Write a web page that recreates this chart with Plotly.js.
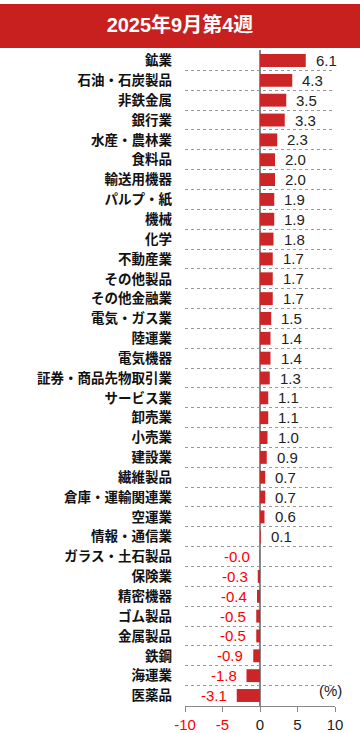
<!DOCTYPE html>
<html>
<head>
<meta charset="utf-8">
<script src="https://cdn.plot.ly/plotly-3.0.1.min.js"></script>
<style>html,body{margin:0;padding:0;background:#fff;}#chart{width:360px;height:733px;}</style>
</head>
<body>
<div id="chart"></div>
<script>
const titleText = '2025年9月第4週';
const categories = ['鉱業','石油・石炭製品','非鉄金属','銀行業','水産・農林業','食料品','輸送用機器','パルプ・紙','機械','化学','不動産業','その他製品','その他金融業','電気・ガス業','陸運業','電気機器','証券・商品先物取引業','サービス業','卸売業','小売業','建設業','繊維製品','倉庫・運輸関連業','空運業','情報・通信業','ガラス・土石製品','保険業','精密機器','ゴム製品','金属製品','鉄鋼','海運業','医薬品'];
const values = [6.1,4.3,3.5,3.3,2.3,2.0,2.0,1.9,1.9,1.8,1.7,1.7,1.7,1.5,1.4,1.4,1.3,1.1,1.1,1.0,0.9,0.7,0.7,0.6,0.1,-0.03,-0.3,-0.4,-0.5,-0.5,-0.9,-1.8,-3.1];
const tickVals = [-10,-5,0,5,10];
const tickLabels = ['-10','-5','0','5','10'];
const unitLabel = '(%)';

const RED = '#cc2528';
const CJK = '"Noto Sans CJK JP", sans-serif';
const NUM = '"Liberation Sans", Arial, sans-serif';

const trace = {
  type: 'bar', orientation: 'h',
  x: values, y: categories,
  marker: {color: RED},
  width: 0.65,
  hoverinfo: 'skip'
};

const annotations = values.map((v, i) => ({
  x: v, y: categories[i], xref: 'x', yref: 'y',
  text: v.toFixed(1),
  showarrow: false,
  xanchor: v < 0 ? 'right' : 'left',
  xshift: v < 0 ? -8 : 8,
  font: {family: NUM, size: 15, color: v < 0 ? '#ff0000' : '#222222'}
}));
annotations.push({
  x: 1.0, y: 0.0, xref: 'paper', yref: 'paper',
  text: unitLabel, showarrow: false, xanchor: 'right', yanchor: 'bottom',
  xshift: 9, yshift: 5,
  font: {family: NUM, size: 15, color: '#222222'}
});

const layout = {
  width: 360, height: 733,
  margin: {l: 185, r: 25, t: 50, b: 27},
  paper_bgcolor: '#ffffff', plot_bgcolor: '#ffffff',
  showlegend: false,
  title: {
    text: '<b>' + titleText + '</b>',
    font: {family: '"Liberation Sans", "Noto Sans CJK JP", sans-serif', size: 20, color: '#ffffff'},
    x: 0.5, xref: 'container', xanchor: 'center',
    y: 1 - 25/733, yref: 'container', yanchor: 'middle'
  },
  shapes: [{
    type: 'rect', xref: 'paper', yref: 'paper',
    x0: -185/150, x1: 175/150,
    y0: (706-48)/656, y1: (706-4)/656,
    fillcolor: '#c8201f', line: {width: 0}, layer: 'below'
  }],
  xaxis: {
    range: [-10, 10], tickvals: tickVals,
    ticktext: tickLabels.map((t, i) => tickVals[i] < 0 ? '<span style="color:#ff0000">' + t + '</span>' : t),
    tickfont: {family: NUM, size: 15, color: '#222222'},
    ticks: 'outside', ticklen: 5, tickcolor: '#888888', tickwidth: 1,
    showline: true, linecolor: '#888888', linewidth: 1,
    showgrid: false,
    zeroline: true, zerolinecolor: '#888888', zerolinewidth: 1.5,
    fixedrange: true
  },
  yaxis: {
    type: 'category', autorange: 'reversed',
    tickson: 'boundaries', ticks: '',
    showgrid: true, gridcolor: '#999999', griddash: 'dot', gridwidth: 1,
    tickfont: {family: CJK, size: 13.5, color: '#111111', weight: 'bold'},
    ticklabelstandoff: 12,
    showline: false, zeroline: false, fixedrange: true
  },
  bargap: 0.35,
  annotations: annotations
};

Plotly.newPlot('chart', [trace], layout, {displayModeBar: false, staticPlot: true});
</script>
</body>
</html>
